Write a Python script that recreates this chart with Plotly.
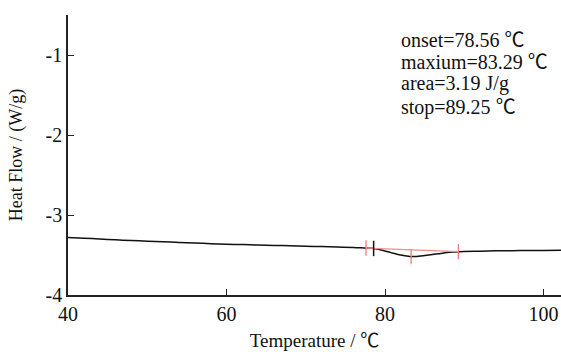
import plotly.graph_objects as go

temperature = [40, 42, 44, 46, 48, 50, 52, 54, 56, 58, 60, 62, 64, 66, 68, 70, 72, 74, 76, 77, 78, 78.6,
               79, 79.5, 80, 80.5, 81, 81.5, 82, 82.5, 83, 83.3, 83.7, 84.2, 84.8, 85.5, 86.2, 87, 87.8,
               88.6, 89.3, 90, 92, 94, 96, 98, 100, 102.2]
heat_flow = [-3.28, -3.29, -3.30, -3.31, -3.32, -3.327, -3.335, -3.343, -3.35, -3.358, -3.365, -3.37,
             -3.375, -3.38, -3.385, -3.39, -3.395, -3.40, -3.407, -3.41, -3.415, -3.418,
             -3.425, -3.437, -3.45, -3.463, -3.477, -3.49, -3.50, -3.51, -3.517, -3.52, -3.519, -3.516,
             -3.51, -3.50, -3.49, -3.48, -3.47, -3.463, -3.458, -3.455, -3.452, -3.448, -3.446, -3.444,
             -3.443, -3.442]

baseline_t = [77.6, 89.25]
baseline_hf = [-3.413, -3.458]
red_marks_t = [77.6, 83.29, 89.25]
red_marks_hf = [-3.413, -3.52, -3.458]
onset_t = [78.56]
onset_hf = [-3.418]

DEG = '<span style="font-family:Noto Sans CJK SC">℃</span>'
notes = ["onset=78.56 " + DEG, "maxium=83.29 " + DEG, "area=3.19 J/g", "stop=89.25 " + DEG]

x_ticks = [40, 60, 80, 100]
y_ticks = [-4, -3, -2, -1]

FONT = "Liberation Serif, Times New Roman, Noto Sans CJK SC, serif"

fig = go.Figure()
fig.add_trace(go.Scatter(x=temperature, y=heat_flow, mode="lines", line_shape="spline",
                         line=dict(color="#111111", width=1.5), hoverinfo="skip"))
fig.add_trace(go.Scatter(x=baseline_t, y=baseline_hf, mode="lines",
                         line=dict(color="#f48a8a", width=1.3), hoverinfo="skip"))
fig.add_trace(go.Scatter(x=red_marks_t, y=red_marks_hf, mode="markers",
                         marker=dict(symbol="line-ns", size=11, line=dict(color="#f47a7a", width=1.3)),
                         hoverinfo="skip"))
fig.add_trace(go.Scatter(x=onset_t, y=onset_hf, mode="markers",
                         marker=dict(symbol="line-ns", size=11, line=dict(color="#111111", width=1.5)),
                         hoverinfo="skip"))

line_y = [38, 61, 83.5, 106]
for txt, py in zip(notes, line_y):
    fig.add_annotation(text=txt, xref="paper", yref="paper",
                       x=(399 - 68) / 493, y=(295 - py) / 280,
                       xanchor="left", yanchor="middle", showarrow=False,
                       font=dict(family=FONT, size=20, color="#111111"))

fig.update_layout(
    width=561, height=352,
    margin=dict(l=68, r=0, t=15, b=57),
    paper_bgcolor="white", plot_bgcolor="white",
    showlegend=False,
    font=dict(family=FONT, size=20, color="#111111"),
)
fig.update_xaxes(range=[40, 102.2], tickvals=x_ticks, ticktext=[str(v) for v in x_ticks],
                 ticks="inside", ticklen=6, tickcolor="#222222", tickwidth=1.2,
                 showline=True, linecolor="#222222", linewidth=1.5, showgrid=False, zeroline=False,
                 title=dict(text="Temperature / " + DEG, font=dict(family=FONT, size=19), standoff=10),
                 tickfont=dict(family=FONT, size=20))
fig.update_yaxes(range=[-4, -0.5], tickvals=y_ticks, ticktext=[str(v) for v in y_ticks],
                 ticks="inside", ticklen=6, tickcolor="#222222", tickwidth=1.2,
                 showline=True, linecolor="#222222", linewidth=1.5, showgrid=False, zeroline=False,
                 title=dict(text="Heat Flow / (W/g)", font=dict(family=FONT, size=18), standoff=18),
                 tickfont=dict(family=FONT, size=20))

fig.write_html("out.html")
